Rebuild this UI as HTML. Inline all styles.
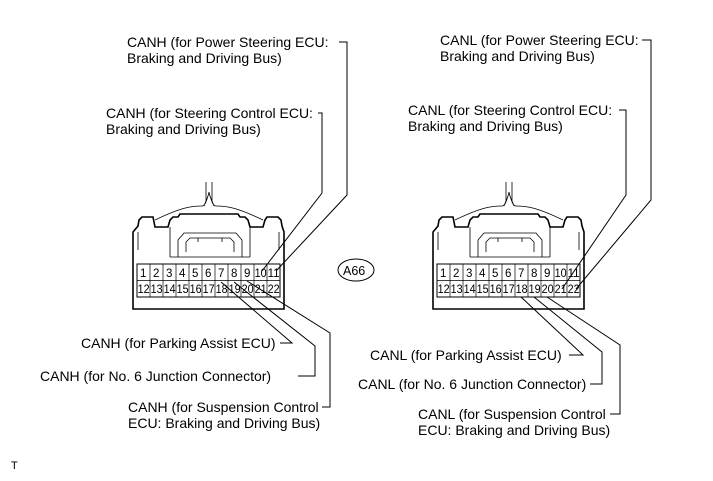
<!DOCTYPE html>
<html><head><style>
body{margin:0;background:#fff;}
svg{display:block;}
text{font-family:"Liberation Sans",Arial,sans-serif;font-size:14px;fill:#000;}
.p text{font-size:11.5px;}
</style></head><body>
<svg width="713" height="481" viewBox="0 0 713 481" xmlns="http://www.w3.org/2000/svg">
<defs>
<g id="conn" fill="none" stroke="#000">
  <path d="M13,129 L13,52 L18,46 L19,40 L22,37 L33,37 L35,47 L48,47 L50,40 L53,37 L58,37 L60,34 L118,34 L120,37 L125,37 L128,40 L130,47 L143,47 L145,40 L147,37 L158,37 L161,40 L162,46 L164,52 L164,129 Z" stroke-width="1.6"/>
  <path d="M50,47 L50,77 M130,47 L130,77 M50,77 L130,77 M58,77 L58,60 L64,53 L116,53 L122,60 L122,77 M66,72 L66,62 L70,58 L110,58 L114,62 L114,72 M78,58 L78,62 M102,58 L102,62 M18,52 L18,70 M159,52 L159,70" stroke-width="0.8"/>
  <rect x="17" y="84" width="143" height="33" stroke-width="1"/>
  <path d="M17,100.5 H160 M30,84 V117 M43,84 V117 M56,84 V117 M69,84 V117 M82,84 V117 M95,84 V117 M108,84 V117 M121,84 V117 M134,84 V117 M147,84 V117" stroke-width="0.7"/>
  <path d="M35,40 C60,28 70,26 82,26 C85,26 86,22 88,16 M143,40 C118,28 108,26 96,26 C93,26 92,22 90,16 M84,26 C86,20 88,18 89,12 M94,26 C92,20 90,18 89,12 M86,2 V22 M92,2 V22" stroke-width="0.8"/>
</g>
<g id="nums" class="p">
  <text x="20" y="97">1</text><text x="33" y="97">2</text><text x="46" y="97">3</text><text x="59" y="97">4</text><text x="72" y="97">5</text><text x="85" y="97">6</text><text x="98" y="97">7</text><text x="111" y="97">8</text><text x="124" y="97">9</text><text x="134.6" y="97" textLength="12" lengthAdjust="spacingAndGlyphs">10</text><text x="147.6" y="97" textLength="12" lengthAdjust="spacingAndGlyphs">11</text>
  <text x="17.6" y="113" textLength="12" lengthAdjust="spacingAndGlyphs">12</text><text x="30.6" y="113" textLength="12" lengthAdjust="spacingAndGlyphs">13</text><text x="43.6" y="113" textLength="12" lengthAdjust="spacingAndGlyphs">14</text><text x="56.6" y="113" textLength="12" lengthAdjust="spacingAndGlyphs">15</text><text x="69.6" y="113" textLength="12" lengthAdjust="spacingAndGlyphs">16</text><text x="82.6" y="113" textLength="12" lengthAdjust="spacingAndGlyphs">17</text><text x="95.6" y="113" textLength="12" lengthAdjust="spacingAndGlyphs">18</text><text x="108.6" y="113" textLength="12" lengthAdjust="spacingAndGlyphs">19</text><text x="121.6" y="113" textLength="12" lengthAdjust="spacingAndGlyphs">20</text><text x="134.6" y="113" textLength="12" lengthAdjust="spacingAndGlyphs">21</text><text x="147.6" y="113" textLength="12" lengthAdjust="spacingAndGlyphs">22</text>
</g>
</defs>
<g transform="translate(120,180)"><use href="#conn"/><use href="#nums"/></g>
<g transform="translate(420,180)"><use href="#conn"/><use href="#nums"/></g>

<g fill="none" stroke="#000" stroke-width="1">
  <path d="M339,42 H347 V195 L276,271"/>
  <path d="M318,113 H322 V193 L262,271"/>
  <path d="M221,282 L292,343 H280"/>
  <path d="M234,282 L315,346 V376 H298"/>
  <path d="M247,281 L330,333 V407 H322"/>
  <path d="M642,40 H651 V200 L576,289"/>
  <path d="M619,110 H626 V195 L562,289"/>
  <path d="M521,297 L583,355 H569"/>
  <path d="M534,297 L602,352 V384 H590"/>
  <path d="M547,297 L620,345 V414 H610"/>
</g>
<ellipse cx="356" cy="270" rx="18" ry="11" fill="none" stroke="#000" stroke-width="1"/>
<text x="343" y="275" style="font-size:12.5px">A66</text>

<text x="127" y="47">CANH (for Power Steering ECU:</text>
<text x="127" y="63">Braking and Driving Bus)</text>
<text x="106" y="118">CANH (for Steering Control ECU:</text>
<text x="106" y="134">Braking and Driving Bus)</text>
<text x="81" y="348">CANH (for Parking Assist ECU)</text>
<text x="40" y="381">CANH (for No. 6 Junction Connector)</text>
<text x="128" y="412">CANH (for Suspension Control</text>
<text x="128" y="428">ECU: Braking and Driving Bus)</text>

<text x="440" y="45">CANL (for Power Steering ECU:</text>
<text x="440" y="61">Braking and Driving Bus)</text>
<text x="408" y="115">CANL (for Steering Control ECU:</text>
<text x="408" y="131">Braking and Driving Bus)</text>
<text x="370" y="360">CANL (for Parking Assist ECU)</text>
<text x="358" y="389">CANL (for No. 6 Junction Connector)</text>
<text x="418" y="419">CANL (for Suspension Control</text>
<text x="418" y="435">ECU: Braking and Driving Bus)</text>

<text x="11" y="469" style="font-size:11px">T</text>
</svg>
</body></html>
